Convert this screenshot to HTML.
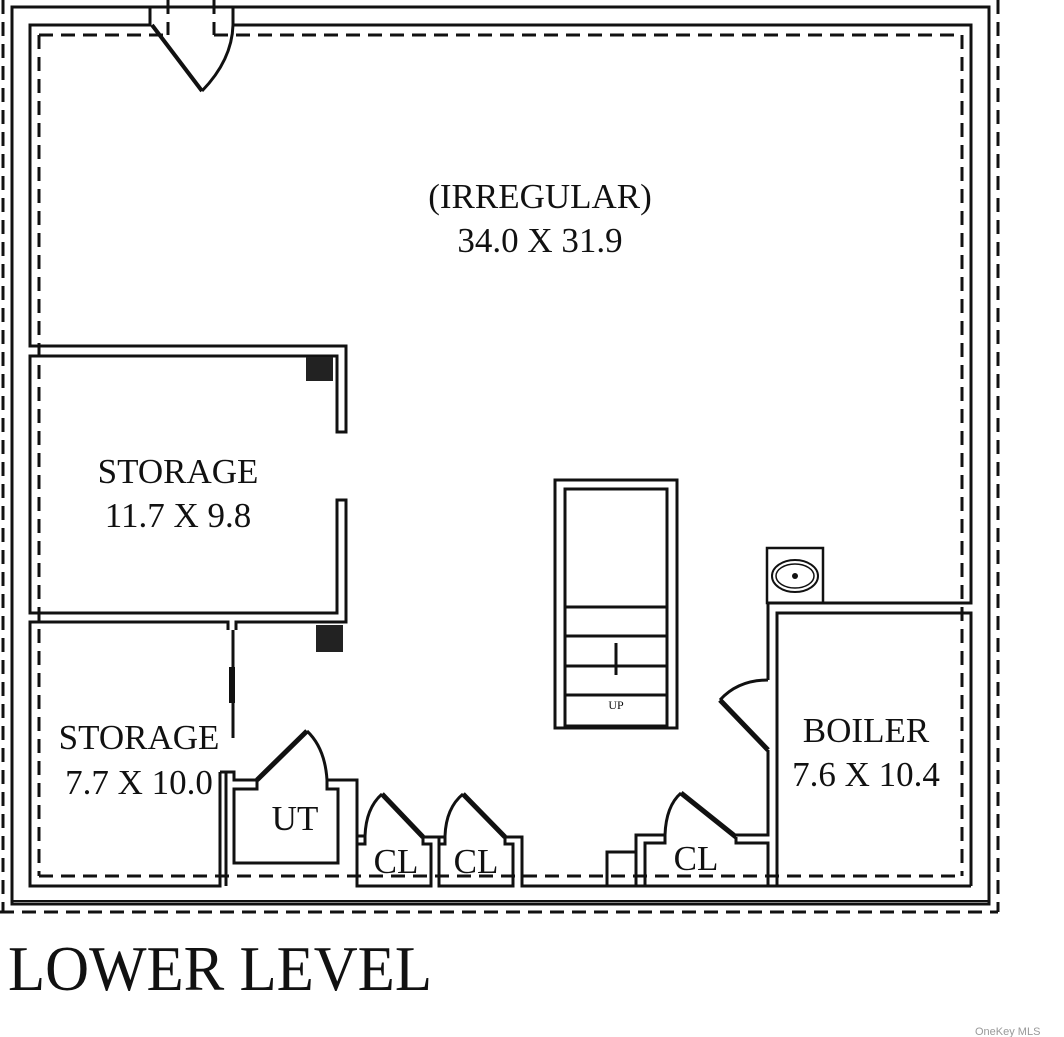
<!DOCTYPE html>
<html><head><meta charset="utf-8"><style>
html,body{margin:0;padding:0;background:#fff;}
svg{display:block;}
text{font-family:"Liberation Serif",serif;fill:#111;}
</style></head><body>
<svg width="1064" height="1037" viewBox="0 0 1064 1037" xmlns="http://www.w3.org/2000/svg">
<g fill="none" stroke="#111" stroke-width="3">
<g stroke-dasharray="14,8">
<line x1="3" y1="0" x2="3" y2="912"/>
<line x1="0" y1="912" x2="998" y2="912"/>
<line x1="998" y1="0" x2="998" y2="912"/>
<line x1="39" y1="35" x2="39" y2="876"/>
<line x1="39" y1="35" x2="168" y2="35"/>
<line x1="214" y1="35" x2="962" y2="35"/>
<line x1="168" y1="0" x2="168" y2="35"/>
<line x1="214" y1="0" x2="214" y2="35"/>
<line x1="962" y1="35" x2="962" y2="876"/>
<line x1="39" y1="876" x2="962" y2="876"/>
</g>
<rect x="12" y="7" width="977" height="897"/>
<line x1="12" y1="901" x2="989" y2="901" stroke-width="2"/>
<polyline points="150,7 150,25 30,25 30,346 346,346 346,432 337,432 337,356 30,356 30,613 337,613 337,500 346,500 346,622 236,622 236,630"/>
<polyline points="228,630 228,622 30,622 30,886 220,886 220,772"/>
<polyline points="233,7 233,25 971,25 971,603 823,603"/>
<line x1="152" y1="25" x2="202" y2="91" stroke-width="4"/>
<path d="M202,91 Q232,60 233,25"/>
<rect x="306" y="357" width="27" height="24" fill="#222" stroke="none"/>
<rect x="316" y="625" width="27" height="27" fill="#222" stroke="none"/>
<line x1="233" y1="630" x2="233" y2="738"/>
<line x1="232" y1="667" x2="232" y2="703" stroke-width="6"/>
<polyline points="220,772 226,772 226,886"/>
<polyline points="226,772 234,772 234,780 257,780"/>
<line x1="257" y1="780" x2="307" y2="731" stroke-width="5"/>
<path d="M307,731 Q325,748 327,780"/>
<polyline points="327,780 357,780 357,836 365,836"/>
<polyline points="257,780 257,789 234,789 234,863 338,863 338,789 327,789 327,780"/>
<path d="M365,836 Q366,808 382,794"/>
<line x1="382" y1="794" x2="423" y2="837" stroke-width="5"/>
<polyline points="423,837 444,837"/>
<polyline points="357,836 357,886 431,886 431,844 423,844 423,837"/>
<polyline points="365,836 365,844 358,844"/>
<path d="M445,836 Q446,808 463,794"/>
<line x1="463" y1="794" x2="505" y2="837" stroke-width="5"/>
<polyline points="505,837 522,837 522,886 768,886"/>
<polyline points="439,837 439,886 513,886 513,844 505,844 505,837"/>
<polyline points="445,836 445,844 439,844"/>
<polyline points="607,886 607,852 636,852"/>
<polyline points="636,886 636,835 665,835"/>
<path d="M665,835 Q666,806 681,793"/>
<line x1="681" y1="793" x2="736" y2="837" stroke-width="5"/>
<polyline points="736,837 736,843 768,843 768,886"/>
<polyline points="645,886 645,843 665,843 665,835"/>
<polyline points="736,835 768,835 768,750"/>
<line x1="768" y1="750" x2="720" y2="700" stroke-width="5"/>
<path d="M720,700 Q738,680 768,680"/>
<polyline points="768,680 768,603 823,603"/>
<polyline points="777,680 777,886"/>
<polyline points="777,680 777,613 971,613 971,886"/>
<line x1="768" y1="886" x2="971" y2="886"/>
<rect x="767" y="548" width="56" height="55" stroke-width="2.5"/>
<ellipse cx="795" cy="576" rx="23" ry="16" stroke-width="2"/>
<ellipse cx="795" cy="576" rx="19" ry="12" stroke-width="1.5"/>
<rect x="555" y="480" width="122" height="248"/>
<polyline points="565,728 565,489 667,489 667,728"/>
<line x1="565" y1="607" x2="667" y2="607"/>
<line x1="565" y1="636" x2="667" y2="636"/>
<line x1="565" y1="666" x2="667" y2="666"/>
<line x1="565" y1="695" x2="667" y2="695"/>
<line x1="565" y1="726" x2="667" y2="726"/>
<line x1="616" y1="643" x2="616" y2="675"/>
</g>
<circle cx="795" cy="576" r="3" fill="#111"/>
<g font-size="35" text-anchor="middle">
<text x="540" y="208">(IRREGULAR)</text>
<text x="540" y="252">34.0 X 31.9</text>
<text x="178" y="483">STORAGE</text>
<text x="178" y="527">11.7 X 9.8</text>
<text x="139" y="749">STORAGE</text>
<text x="139" y="794">7.7 X 10.0</text>
<text x="295" y="830">UT</text>
<text x="396" y="873">CL</text>
<text x="476" y="873">CL</text>
<text x="696" y="870">CL</text>
<text x="866" y="742">BOILER</text>
<text x="866" y="786">7.6 X 10.4</text>
</g>
<text x="616" y="709" font-size="12" text-anchor="middle">UP</text>
<text x="8" y="990" font-size="64" textLength="424" lengthAdjust="spacingAndGlyphs">LOWER LEVEL</text>
<text x="975" y="1035" font-size="11" style="font-family:'Liberation Sans',sans-serif;fill:#999">OneKey MLS</text>
</svg>
</body></html>
